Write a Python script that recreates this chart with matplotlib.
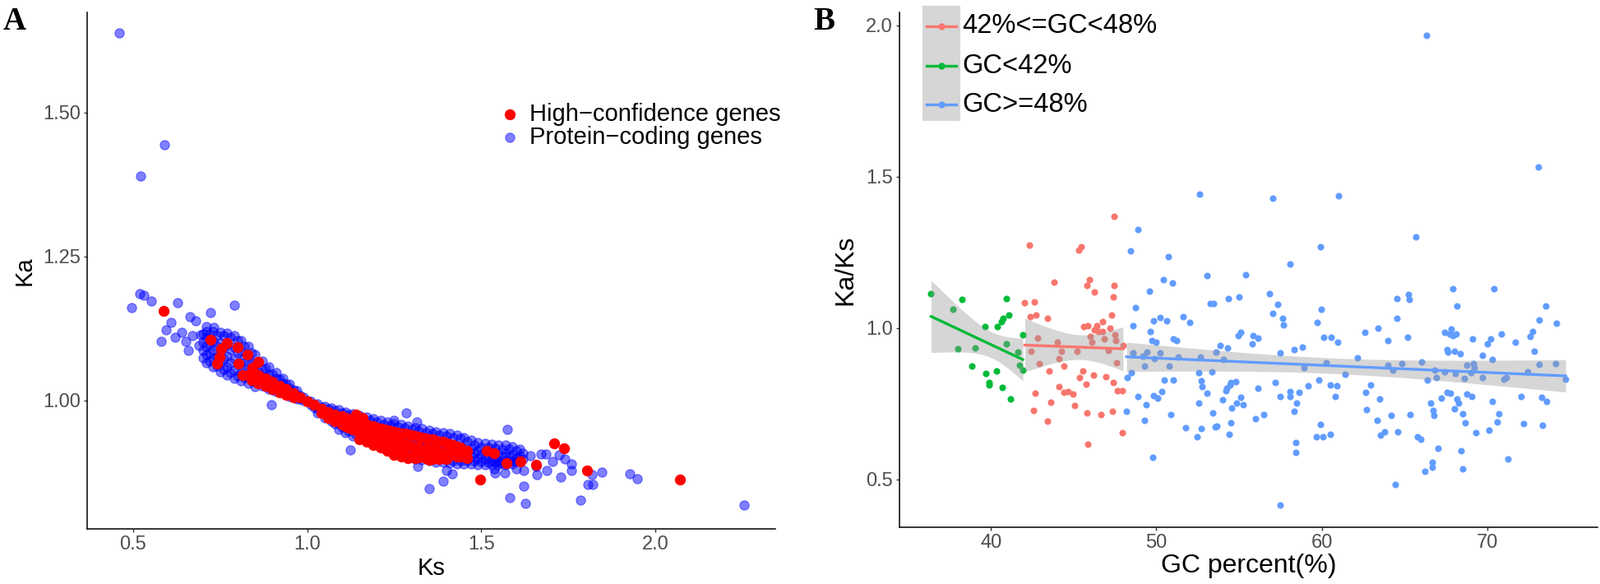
import numpy as np
import matplotlib
matplotlib.use('Agg')
import matplotlib.pyplot as plt
from matplotlib.patches import Rectangle

plt.rcParams['font.family'] = ['Liberation Sans', 'DejaVu Sans']

# ---- panel A : Ka vs Ks ----
# dense band of protein-coding genes, one column of Ka values per Ks value
band_ks = [0.70, 0.72, 0.74, 0.76, 0.78, 0.80, 0.82, 0.84, 0.86, 0.88, 0.90, 0.92,
           0.94, 0.96, 0.98, 1.00, 1.02, 1.04, 1.06, 1.08, 1.10, 1.12, 1.14, 1.16,
           1.18, 1.20, 1.22, 1.24, 1.26, 1.28, 1.30, 1.32, 1.34, 1.36, 1.38, 1.40,
           1.42, 1.44, 1.46, 1.48, 1.50, 1.52, 1.54, 1.56, 1.58, 1.60, 1.62]
band_ka = [
    [1.116, 1.101, 1.087, 1.074], [1.114, 1.098, 1.082, 1.068], [1.112, 1.094, 1.076, 1.060],
    [1.112, 1.092, 1.072, 1.054], [1.110, 1.088, 1.066, 1.048], [1.104, 1.083, 1.062, 1.043],
    [1.094, 1.074, 1.056, 1.040], [1.082, 1.064, 1.048, 1.034], [1.067, 1.050, 1.030],
    [1.056, 1.040, 1.024], [1.046, 1.033, 1.019], [1.037, 1.026, 1.015],
    [1.028, 1.019, 1.010], [1.018, 1.010, 1.005], [1.008, 1.002], [1.000],
    [0.993, 0.988], [0.989, 0.980], [0.985, 0.972], [0.982, 0.970, 0.960],
    [0.979, 0.966, 0.954], [0.975, 0.961, 0.947], [0.971, 0.956, 0.941], [0.968, 0.952, 0.936],
    [0.965, 0.948, 0.932], [0.962, 0.945, 0.928], [0.959, 0.941, 0.924], [0.957, 0.938, 0.920],
    [0.954, 0.934, 0.914], [0.952, 0.930, 0.909], [0.950, 0.927, 0.905], [0.947, 0.925, 0.903],
    [0.944, 0.922, 0.901], [0.942, 0.920, 0.899], [0.940, 0.918, 0.898], [0.938, 0.916, 0.897],
    [0.936, 0.915, 0.896], [0.934, 0.913, 0.895], [0.929, 0.911, 0.895], [0.923, 0.908, 0.895],
    [0.919, 0.905, 0.894], [0.918, 0.904, 0.893], [0.917, 0.903, 0.893], [0.916, 0.902, 0.893],
    [0.915, 0.902, 0.893], [0.913, 0.900, 0.894], [0.909, 0.898]]
band2_ks = [0.71, 0.73, 0.75, 0.77, 0.79, 0.81, 0.83, 0.85, 0.87, 0.89, 0.91, 0.93,
            0.95, 0.97, 0.99, 1.01, 1.03, 1.05, 1.07, 1.09, 1.11, 1.13, 1.15, 1.17,
            1.19, 1.21, 1.23, 1.25, 1.27, 1.29, 1.31, 1.33, 1.35, 1.37, 1.39, 1.41,
            1.43, 1.45, 1.47, 1.49, 1.51, 1.53, 1.55, 1.57, 1.59, 1.61]
band2_ka = [
    [1.120, 1.108, 1.094, 1.080, 1.066], [1.120, 1.104, 1.088, 1.072, 1.058],
    [1.118, 1.100, 1.082, 1.065, 1.050], [1.117, 1.097, 1.077, 1.058, 1.044],
    [1.112, 1.092, 1.072, 1.052, 1.038], [1.104, 1.086, 1.066, 1.048, 1.034],
    [1.094, 1.077, 1.060, 1.043, 1.030], [1.080, 1.064, 1.048, 1.032, 1.024],
    [1.068, 1.054, 1.040, 1.026], [1.058, 1.046, 1.034, 1.020], [1.048, 1.038, 1.027, 1.016],
    [1.039, 1.030, 1.021, 1.012], [1.029, 1.021, 1.013, 1.007], [1.017, 1.010, 1.003],
    [1.006, 1.000], [0.998, 0.993], [0.994, 0.986, 0.979], [0.990, 0.980, 0.970],
    [0.987, 0.976, 0.964], [0.984, 0.972, 0.960, 0.950], [0.980, 0.968, 0.955, 0.944],
    [0.977, 0.964, 0.950, 0.938], [0.974, 0.960, 0.946, 0.933], [0.971, 0.956, 0.941, 0.928],
    [0.968, 0.953, 0.938, 0.924], [0.966, 0.950, 0.934, 0.920], [0.963, 0.947, 0.930, 0.915],
    [0.960, 0.943, 0.926, 0.910], [0.958, 0.940, 0.921, 0.905], [0.956, 0.937, 0.918, 0.901],
    [0.953, 0.934, 0.915, 0.899], [0.951, 0.932, 0.912, 0.897], [0.948, 0.929, 0.910, 0.895],
    [0.946, 0.927, 0.908, 0.893], [0.944, 0.925, 0.906, 0.892], [0.942, 0.923, 0.905, 0.891],
    [0.940, 0.921, 0.904, 0.890], [0.936, 0.919, 0.903, 0.890], [0.931, 0.916, 0.902, 0.890],
    [0.927, 0.913, 0.900, 0.889], [0.925, 0.911, 0.898, 0.889], [0.924, 0.910, 0.897, 0.888],
    [0.923, 0.909, 0.896, 0.888], [0.922, 0.908, 0.896, 0.889], [0.920, 0.906, 0.896, 0.890],
    [0.915, 0.904, 0.895]]

# scattered protein-coding genes outside the band
blue_ks = [0.459, 0.590, 0.522, 0.496, 0.518, 0.530, 0.552, 0.627, 0.791, 0.722, 0.663,
           0.680, 0.608, 0.595, 0.581, 0.621, 0.651, 0.640, 0.670, 0.710, 0.732, 0.695,
           0.658, 0.688, 0.898, 1.284, 1.124, 1.575, 1.350, 1.391, 1.400, 1.417, 1.317,
           1.583, 1.628, 1.621, 1.540, 1.568, 1.602, 1.623, 1.659, 1.689, 1.729, 1.760,
           1.784, 1.807, 1.821, 1.819, 1.847, 1.928, 1.947, 2.254, 1.672, 1.686, 1.704,
           1.723, 1.642, 1.657, 1.556, 1.538, 1.760, 1.740, 1.316, 1.250]
blue_ka = [1.638, 1.444, 1.390, 1.161, 1.186, 1.183, 1.173, 1.170, 1.165, 1.153, 1.145,
           1.138, 1.136, 1.123, 1.103, 1.110, 1.103, 1.118, 1.112, 1.129, 1.127, 1.114,
           1.087, 1.095, 0.992, 0.979, 0.914, 0.950, 0.847, 0.860, 0.879, 0.873, 0.885,
           0.831, 0.821, 0.851, 0.874, 0.874, 0.881, 0.879, 0.871, 0.879, 0.867, 0.879,
           0.827, 0.854, 0.854, 0.871, 0.876, 0.873, 0.864, 0.819, 0.907, 0.907, 0.894,
           0.905, 0.904, 0.885, 0.891, 0.881, 0.890, 0.898, 0.963, 0.965]

# high-confidence genes: dense part along the curve
red_band_ks = [0.84, 0.86, 0.88, 0.90, 0.92, 0.94, 0.96, 0.98, 1.00, 1.02, 1.04, 1.06,
               1.08, 1.10, 1.12, 1.14, 1.16, 1.18, 1.20, 1.22, 1.24, 1.26, 1.28, 1.30,
               1.32, 1.34, 1.36, 1.38, 1.40, 1.42, 1.44, 1.46]
red_band_ka = [
    [1.050, 1.036], [1.044, 1.030], [1.038, 1.025], [1.032, 1.020], [1.026, 1.014],
    [1.020, 1.010], [1.013, 1.005], [1.006], [0.999], [0.992], [0.985, 0.978],
    [0.980, 0.970], [0.976, 0.964], [0.972, 0.958], [0.968, 0.952], [0.964, 0.948, 0.975],
    [0.960, 0.944, 0.970], [0.956, 0.940, 0.928], [0.953, 0.937, 0.924], [0.950, 0.934, 0.920],
    [0.947, 0.930, 0.915], [0.944, 0.926, 0.908], [0.942, 0.923, 0.905], [0.940, 0.920, 0.903],
    [0.937, 0.918, 0.901], [0.934, 0.915, 0.900], [0.932, 0.912, 0.899], [0.929, 0.910, 0.898],
    [0.926, 0.908, 0.899], [0.922, 0.905], [0.918, 0.902], [0.912, 0.900]]
red_band2_ks = [1.11, 1.13, 1.15, 1.17, 1.19, 1.21, 1.23, 1.25, 1.27, 1.29, 1.31, 1.33,
                1.35, 1.37, 1.39, 1.41, 1.43]
red_band2_ka = [
    [0.970, 0.955], [0.966, 0.950], [0.962, 0.946, 0.932], [0.958, 0.942, 0.928],
    [0.955, 0.938, 0.922], [0.951, 0.935, 0.918], [0.948, 0.932, 0.912], [0.946, 0.928, 0.906],
    [0.943, 0.925, 0.903], [0.941, 0.922, 0.900], [0.938, 0.919, 0.900], [0.936, 0.916],
    [0.933, 0.914, 0.897], [0.930, 0.911], [0.928, 0.909], [0.924, 0.906], [0.920, 0.903]]
red_ks = [0.587, 0.722, 0.754, 0.747, 0.740, 0.799, 0.802, 0.828, 0.814, 0.843, 0.858,
          0.770, 1.709, 1.738, 1.497, 1.803, 2.072, 1.572, 1.612, 1.658, 1.516, 1.538]
red_ka = [1.155, 1.106, 1.090, 1.075, 1.064, 1.093, 1.064, 1.080, 1.044, 1.057, 1.067,
          1.100, 0.925, 0.917, 0.863, 0.879, 0.863, 0.891, 0.894, 0.889, 0.912, 0.909]

# ---- panel B : Ka/Ks vs GC percent ----
low_gc = [36.39, 37.70, 38.26, 38.01, 39.05, 38.87, 39.66, 39.72, 39.91, 39.91, 40.34, 40.37,
          40.64, 40.73, 40.70, 40.95, 41.07, 40.95, 41.19, 41.62, 41.74, 41.93, 41.93]
low_r = [1.115, 1.062, 1.095, 0.931, 0.933, 0.874, 1.006, 0.849, 0.819, 0.811, 0.858, 1.004,
         1.022, 1.032, 0.805, 1.096, 1.043, 0.947, 0.765, 0.921, 0.877, 0.979, 0.862]

mid_gc = [42.05, 42.33, 42.42, 42.39, 42.63, 42.69, 42.60, 42.75, 42.82, 42.91, 43.40, 43.40,
          43.52, 43.61, 43.83, 44.04, 44.13, 44.13, 44.29, 44.41, 44.44, 44.68, 44.96, 45.05,
          45.23, 45.33, 45.48, 45.36, 45.54, 45.63, 45.75, 45.82, 45.88, 45.82, 45.94, 45.85,
          46.00, 46.12, 46.21, 46.27, 46.27, 46.40, 46.49, 46.67, 46.76, 46.73, 46.86, 46.95,
          47.10, 47.19, 47.28, 47.35, 47.38, 47.41, 47.44, 47.44, 47.50, 47.59, 47.65, 47.96,
          47.93, 47.99, 47.56]
mid_r = [1.083, 1.275, 0.923, 1.037, 1.086, 0.785, 0.728, 1.043, 0.968, 0.884, 1.033, 0.693,
         0.858, 0.756, 1.153, 0.954, 0.806, 0.899, 0.923, 0.874, 0.788, 0.791, 0.781, 0.744,
         0.923, 1.257, 1.269, 0.837, 0.858, 1.006, 0.815, 1.140, 0.617, 0.720, 1.160, 1.007,
         0.973, 0.954, 0.846, 1.119, 0.994, 1.007, 0.988, 0.714, 1.021, 0.988, 0.963, 0.840,
         0.926, 0.999, 1.044, 0.726, 0.821, 1.102, 1.142, 1.368, 0.979, 0.886, 0.794, 0.654,
         0.794, 0.942, 0.958]

high_gc = [48.20, 48.26, 48.45, 48.51, 48.57, 48.60, 48.75, 48.88, 48.91, 49.21, 49.27, 49.31,
           49.40, 49.43, 49.58, 49.64, 49.74, 49.80, 49.83, 49.83, 49.89, 49.98, 50.07, 50.23,
           50.25, 50.32, 50.44, 50.50, 50.62, 50.71, 50.77, 50.90, 50.96, 51.05, 51.05, 51.20,
           51.33, 51.61, 51.78, 52.00, 52.49, 52.58, 52.58, 52.61, 52.67, 52.70, 52.76, 52.73,
           53.04, 53.07, 53.28, 53.37, 53.44, 53.41, 53.56, 53.68, 53.62, 53.86, 53.99, 54.05,
           54.20, 54.26, 54.32, 54.36, 54.39, 54.45, 54.48, 54.51, 54.54, 54.81, 54.84, 54.93,
           55.02, 55.08, 55.11, 55.24, 55.39, 55.79, 55.85, 56.00, 56.13, 56.16, 56.50, 56.84,
           57.02, 57.05, 57.18, 57.34, 57.47, 57.47, 57.47, 57.62, 57.68, 58.06, 58.06, 58.10,
           58.31, 58.34, 58.43, 58.43, 58.49, 58.62, 58.81, 58.93, 59.19, 59.65, 59.74, 59.81,
           59.90, 59.93, 59.99, 60.05, 60.11, 60.29, 60.51, 60.54, 60.57, 60.81, 60.91, 60.97,
           61.00, 61.43, 62.16, 62.59, 62.65, 62.68, 62.96, 63.39, 63.36, 63.48, 63.57, 63.82,
           63.97, 64.00, 64.18, 64.31, 64.43, 64.52, 64.55, 64.58, 64.86, 65.19, 65.25, 65.28,
           65.34, 65.68, 65.77, 65.98, 66.02, 66.23, 66.35, 66.38, 66.57, 66.66, 66.69, 66.72,
           66.78, 66.84, 66.93, 67.03, 67.24, 67.40, 67.43, 67.55, 67.58, 67.64, 67.70, 67.76,
           67.83, 67.92, 67.92, 68.01, 68.01, 68.07, 68.13, 68.16, 68.19, 68.26, 68.35, 68.44,
           68.50, 68.53, 68.62, 68.65, 68.78, 68.78, 69.02, 69.08, 69.11, 69.17, 69.23, 69.32,
           69.69, 69.72, 70.00, 70.09, 70.21, 70.30, 70.30, 70.40, 70.61, 70.70, 70.86, 71.01,
           71.16, 71.25, 71.68, 72.05, 72.17, 72.45, 72.60, 72.72, 72.84, 73.08, 73.12, 73.15,
           73.30, 73.36, 73.54, 73.57, 74.13, 74.19, 74.74]
high_r = [0.726, 0.837, 1.254, 0.853, 0.919, 1.009, 1.068, 0.774, 1.326, 0.907, 0.874, 0.695,
          0.748, 0.921, 1.121, 0.988, 0.958, 0.573, 1.023, 0.778, 0.899, 0.954, 0.769, 1.036,
          0.917, 0.791, 1.160, 0.828, 1.023, 1.235, 0.874, 0.714, 1.148, 0.828, 0.964, 0.958,
          0.905, 1.037, 0.670, 1.019, 0.640, 0.753, 0.852, 1.442, 0.905, 0.825, 0.806, 0.667,
          1.174, 0.784, 1.081, 0.856, 1.081, 0.719, 0.674, 0.677, 0.921, 0.943, 0.764, 0.896,
          0.794, 0.800, 0.935, 1.096, 0.649, 0.812, 0.686, 0.819, 0.735, 0.822, 0.751, 0.975,
          1.102, 0.985, 0.772, 0.748, 1.177, 0.948, 0.975, 0.701, 0.968, 0.800, 0.714, 1.115,
          1.430, 1.049, 0.819, 1.077, 0.775, 0.917, 0.415, 1.032, 1.010, 0.790, 1.212, 0.775,
          0.930, 0.726, 0.621, 0.590, 0.751, 0.788, 0.936, 0.868, 0.809, 0.640, 1.019, 0.827,
          0.681, 1.269, 1.062, 0.640, 0.970, 0.886, 0.812, 0.649, 0.970, 0.775, 0.809, 0.954,
          1.436, 0.847, 0.902, 0.985, 0.788, 0.730, 0.812, 1.000, 0.695, 0.767, 0.647, 0.656,
          0.960, 0.877, 0.711, 0.862, 0.484, 1.032, 1.096, 0.656, 0.884, 0.970, 1.110, 1.094,
          0.714, 1.302, 0.641, 0.633, 0.889, 0.528, 1.967, 0.827, 0.753, 0.541, 0.556, 0.728,
          0.711, 0.862, 0.837, 0.602, 0.768, 0.985, 0.856, 0.930, 0.788, 0.920, 0.981, 0.785,
          0.998, 1.130, 0.975, 0.923, 0.732, 0.849, 0.981, 1.072, 0.765, 0.753, 0.914, 0.596,
          0.716, 0.535, 0.835, 0.686, 0.877, 0.781, 0.852, 0.775, 0.965, 0.884, 0.868, 0.654,
          0.909, 0.837, 0.948, 0.662, 0.965, 0.896, 0.757, 1.130, 0.689, 0.717, 0.981, 0.831,
          0.837, 0.568, 0.952, 0.773, 0.683, 0.856, 0.973, 0.990, 0.923, 1.531, 0.880, 1.027,
          0.772, 0.680, 1.074, 0.757, 0.884, 1.015, 0.831]

group_labels = ['42%<=GC<48%', 'GC<42%', 'GC>=48%']
group_colors = ['#F8766D', '#00BA38', '#619CFF']

fig = plt.figure(figsize=(19.46, 7.1), dpi=100)
axA = fig.add_axes([0.0545, 0.0944, 0.4301, 0.8845])
axB = fig.add_axes([0.5622, 0.0972, 0.4363, 0.8817])

# panel A points
bx = ([k for k, col in zip(band_ks, band_ka) for _ in col]
      + [k for k, col in zip(band2_ks, band2_ka) for _ in col] + blue_ks)
by = [v for col in band_ka for v in col] + [v for col in band2_ka for v in col] + blue_ka
rx = ([k for k, col in zip(red_band_ks, red_band_ka) for _ in col]
      + [k for k, col in zip(red_band2_ks, red_band2_ka) for _ in col] + red_ks)
ry = [v for col in red_band_ka for v in col] + [v for col in red_band2_ka for v in col] + red_ka
axA.scatter(bx, by, s=66, color='#0000ff', alpha=0.5, edgecolors='#0000ff',
            linewidths=0.8, zorder=2)
axA.scatter(rx, ry, s=92, color='#ff0000', linewidths=0, zorder=3)

axA.set_xlim(0.368, 2.345)
axA.set_ylim(0.777, 1.674)
axA.set_xticks([0.5, 1.0, 1.5, 2.0])
axA.set_xticklabels(['0.5', '1.0', '1.5', '2.0'])
axA.set_yticks([1.00, 1.25, 1.50])
axA.set_yticklabels(['1.00', '1.25', '1.50'])
axA.set_xlabel('Ks', fontsize=21, labelpad=3)
axA.set_ylabel('Ka', fontsize=21, labelpad=6)

# legend of panel A
axA.scatter([0.614], [0.8025], s=92, color='#ff0000', linewidths=0,
            transform=axA.transAxes, clip_on=False)
axA.scatter([0.614], [0.758], s=66, color='#0000ff', alpha=0.5, edgecolors='#0000ff',
            linewidths=0.8, transform=axA.transAxes, clip_on=False)
axA.text(0.643, 0.8025, 'High\u2212confidence genes', transform=axA.transAxes,
         fontsize=21, va='center', ha='left')
axA.text(0.643, 0.758, 'Protein\u2212coding genes', transform=axA.transAxes,
         fontsize=21, va='center', ha='left')

# panel B points, then lm fits with 95% band
groups = [(mid_gc, mid_r), (low_gc, low_r), (high_gc, high_r)]
for (gx, gy), col in zip(groups, group_colors):
    axB.scatter(gx, gy, s=34, color=col, linewidths=0, zorder=2)
for (gx, gy), col in zip(groups, group_colors):
    gx = np.array(gx)
    gy = np.array(gy)
    n = len(gx)
    b1, b0 = np.polyfit(gx, gy, 1)
    resid = gy - (b0 + b1 * gx)
    s = np.sqrt(np.sum(resid ** 2) / (n - 2))
    xx = np.linspace(gx.min(), gx.max(), 100)
    yy = b0 + b1 * xx
    se = s * np.sqrt(1.0 / n + (xx - gx.mean()) ** 2 / np.sum((gx - gx.mean()) ** 2))
    t = 1.96 + 2.4 / (n - 2)
    axB.fill_between(xx, yy - t * se, yy + t * se, color='#999999', alpha=0.4,
                     linewidth=0, zorder=3)
    axB.plot(xx, yy, color=col, lw=2.4, zorder=4)

axB.set_xlim(34.48, 76.67)
axB.set_ylim(0.342, 2.043)
axB.set_xticks([40, 50, 60, 70])
axB.set_yticks([0.5, 1.0, 1.5, 2.0])
axB.set_yticklabels(['0.5', '1.0', '1.5', '2.0'])
axB.set_xlabel('GC percent(%)', fontsize=23, labelpad=1)
axB.set_ylabel('Ka/Ks', fontsize=23, labelpad=7)

# legend of panel B (grey key column like ggplot's smooth keys)
axB.add_patch(Rectangle((0.033, 0.789), 0.054, 0.224, transform=axB.transAxes,
                        facecolor='#d6d6d6', edgecolor='none', clip_on=False, zorder=5))
for lab, col, yk in zip(group_labels, group_colors, [0.973, 0.896, 0.821]):
    axB.plot([0.039, 0.081], [yk, yk], color=col, lw=2.4, transform=axB.transAxes,
             clip_on=False, zorder=6)
    axB.plot([0.060], [yk], 'o', color=col, ms=5, transform=axB.transAxes,
             clip_on=False, zorder=7)
    axB.text(0.0895, yk, lab, transform=axB.transAxes, fontsize=23.5, va='center',
             ha='left', zorder=7)

for ax in (axA, axB):
    for side in ('top', 'right'):
        ax.spines[side].set_visible(False)
    for side in ('left', 'bottom'):
        ax.spines[side].set_linewidth(1.1)
        ax.spines[side].set_color('black')
    ax.tick_params(labelsize=17, labelcolor='#4d4d4d', color='#333333',
                   length=3, width=1, pad=3)

fig.text(4 / 1946, 1 - 8 / 710, 'A', fontfamily='Liberation Serif', fontweight='bold',
         fontsize=28, va='top', ha='left')
fig.text(989 / 1946, 1 - 8 / 710, 'B', fontfamily='Liberation Serif', fontweight='bold',
         fontsize=28, va='top', ha='left')

fig.savefig('out.png', dpi=100)
